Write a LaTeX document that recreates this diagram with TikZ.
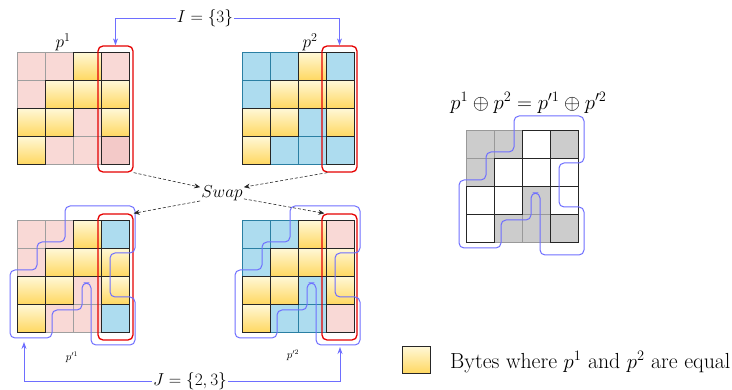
\documentclass[tikz,border=0pt]{standalone}
\usetikzlibrary{arrows.meta,calc}
\definecolor{pinkc}{HTML}{F9D9D6}
\definecolor{pinkd}{HTML}{F3C9C8}
\definecolor{bluec}{HTML}{ADDCEF}
\definecolor{tealc}{HTML}{2A7FA3}
\definecolor{ytop}{HTML}{FFF7D4}
\definecolor{ybot}{HTML}{FFD75E}
\definecolor{grayc}{HTML}{CCCCCC}
\definecolor{curvec}{HTML}{6E6EFF}
\tikzset{
 a-P/.style={fill=pinkc,draw=gray!75,line width=1pt},
 b-P/.style={},
 a-p/.style={fill=pinkc},
 b-p/.style={draw=black!85,line width=1pt},
 a-q/.style={fill=pinkd},
 b-q/.style={draw=black!85,line width=1pt},
 a-B/.style={fill=bluec,draw=tealc,line width=1pt},
 b-B/.style={},
 a-b/.style={fill=bluec},
 b-b/.style={draw=black!85,line width=1pt},
 a-Y/.style={top color=ytop,bottom color=ybot},
 b-Y/.style={draw=black!85,line width=1pt},
 a-G/.style={fill=grayc,draw=gray!80,line width=1pt},
 b-G/.style={},
 a-g/.style={fill=grayc},
 b-g/.style={draw=black!85,line width=1pt},
 a-W/.style={fill=white},
 b-W/.style={draw=black!85,line width=1pt},
 redbox/.style={draw=red!90!black,line width=1.3pt,rounded corners=5pt,inner sep=0pt},
 bcurve/.style={draw=curvec,line width=1pt,rounded corners=5pt},
 setarrow/.style={draw=curvec,line width=0.9pt,-{Stealth[length=7pt,width=5pt]}},
 swaparrow/.style={draw=black!85,densely dashed,line width=0.6pt,-{Stealth[length=6pt,width=5pt]}},
 biglabel/.style={font=\fontsize{17}{20}\selectfont,inner sep=1pt},
 hugelabel/.style={font=\fontsize{21}{24}\selectfont,inner sep=1pt},
 legendlabel/.style={font=\fontsize{21.8}{25}\selectfont,inner sep=1pt},
 smalllabel/.style={font=\fontsize{10.5}{12}\selectfont,inner sep=1pt},
}
\newcommand\drawgrid[3]{%
  \foreach \c [count=\i from 0] in {#3} {
    \pgfmathtruncatemacro\col{mod(\i,4)}
    \pgfmathtruncatemacro\row{\i/4}
    \path[a-\c] ({#1+28*\col},{#2+28*\row}) rectangle ++(28,28);
  }
  \foreach \c [count=\i from 0] in {#3} {
    \pgfmathtruncatemacro\col{mod(\i,4)}
    \pgfmathtruncatemacro\row{\i/4}
    \path[b-\c] ({#1+28*\col},{#2+28*\row}) rectangle ++(28,28);
  }
}
\newcommand\curvepath{(80,-15) -- (118,-15) -- (118,32) -- (93,32) -- (93,76) -- (118,76) -- (118,124) -- (74,124) -- (74,62) -- (65,62) -- (65,89) -- (35,89) -- (35,117) -- (-7,117) -- (-7,49) -- (20,49) -- (20,21) -- (48,21) -- (48,-15) -- cycle}
\begin{document}
\begin{tikzpicture}[x=1pt,y=-1pt]
\useasboundingbox (0,0) rectangle (732,390);
% grids
\drawgrid{17}{53}{P,P,Y,p,P,Y,Y,Y,Y,Y,P,Y,Y,P,P,q}
\drawgrid{242}{53}{B,B,Y,b,B,Y,Y,Y,Y,Y,B,Y,Y,B,B,b}
\drawgrid{17}{221}{P,P,Y,b,P,Y,Y,Y,Y,Y,P,Y,Y,P,P,b}
\drawgrid{242}{221}{B,B,Y,p,B,Y,Y,Y,Y,Y,B,Y,Y,B,B,p}
\drawgrid{466}{131}{G,G,W,g,G,W,W,W,W,W,G,W,W,G,G,g}
% red boxes
\node[redbox,minimum width=35pt,minimum height=126pt] (r1) at (115.5,109) {};
\node[redbox,minimum width=35pt,minimum height=126pt] (r2) at (339.5,109) {};
\node[redbox,minimum width=35pt,minimum height=126pt] (r3) at (115.5,277) {};
\node[redbox,minimum width=35pt,minimum height=126pt] (r4) at (339.5,277) {};
% blue curves
\draw[bcurve,shift={(17,221)}] \curvepath;
\draw[bcurve,shift={(242,221)}] \curvepath;
\draw[bcurve,shift={(466,131)}] \curvepath;
% labels
\node[biglabel] (l1) at (63,42) {$p^1$};
\node[biglabel] (l2) at (310,42) {$p^2$};
\node[smalllabel] (l3) at (72,357) {$p'^1$};
\node[smalllabel] (l4) at (293,355) {$p'^2$};
\node[hugelabel] (title) at (528.5,103) {$p^1\oplus p^2=p'^1\oplus p'^2$};
% I set
\node[biglabel] (I) at (205,18) {$I=\{3\}$};
\draw[setarrow] (I.west) -| (r1.north);
\draw[setarrow] (I.east) -| (r2.north);
% J set
\node[biglabel] (J) at (190,381) {$J=\{2,3\}$};
\coordinate (ja) at (24,342);
\coordinate (jb) at (340,347);
\draw[setarrow] (J.west) -| (ja);
\draw[setarrow] (J.east) -| (jb);
% swap
\node[biglabel] (swap) at (222,193) {$Swap$};
\draw[swaparrow] (r1.south east) -- (swap.165);
\draw[swaparrow] ($(r2.south west)+(6,0)$) -- (swap.15);
\draw[swaparrow] (swap.200) -- (r3.north east);
\draw[swaparrow] (swap.-15) -- ($(r4.north west)+(3,0)$);
% legend
\path[a-Y] (402,347) rectangle (430,374);
\node[draw=black!85,line width=1pt,minimum width=28pt,minimum height=27pt,inner sep=0pt] (leg) at (416,360.5) {};
\node[legendlabel,anchor=west] (legtext) at (449,362) {Bytes where $p^1$ and $p^2$ are equal};
\end{tikzpicture}
\end{document}
